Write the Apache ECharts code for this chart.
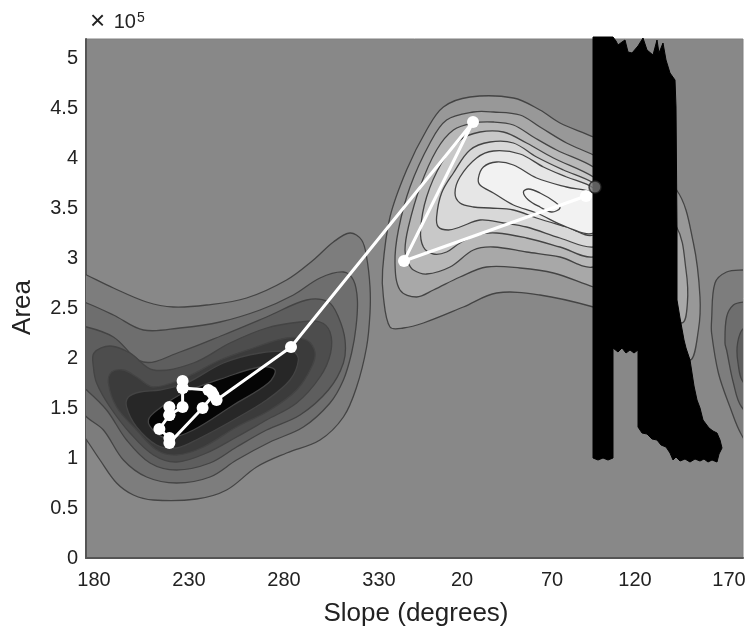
<!DOCTYPE html>
<html>
<head>
<meta charset="utf-8">
<title>Slope vs Area</title>
<script src="https://cdn.jsdelivr.net/npm/echarts@6/dist/echarts.min.js"></script>
<style>
  html, body { margin: 0; padding: 0; background: #fff; }
  #chart { width: 747px; height: 628px; }
</style>
</head>
<body>
<div id="chart"></div>
<script>
// ticks, slope runs on past 360 so the axis is unwrapped
const xTickValues = [184, 231.5, 279, 326.5, 368, 413, 454.5, 501.5]
const xTickLabels = ['180', '230', '280', '330', '20', '70', '120', '170']
const yTickValues = [0, 0.5, 1, 1.5, 2, 2.5, 3, 3.5, 4, 4.5, 5]
const yTickLabels = ['0', '0.5', '1', '1.5', '2', '2.5', '3', '3.5', '4', '4.5', '5']

// dark basin, lower left: [slope, area x 1e5]
const basin1 = [[172,2.91],[180.3,2.83],[193.7,2.70],[210.3,2.56],[223.7,2.51],[240.3,2.53],[260.3,2.60],[280.3,2.78],[293.7,2.98],[303.7,3.16],[312,3.25],[317.8,3.18],[320.3,3.01],[322,2.71],[322,2.45],[320.3,2.11],[315.3,1.71],[308.7,1.41],[297,1.18],[280.3,1.05],[265.3,0.91],[250.3,0.68],[235.3,0.59],[213.7,0.58],[203.7,0.63],[195.3,0.75],[187,0.98],[180.3,1.18],[172,1.41]]
const basin2 = [[172,2.60],[180.3,2.55],[193.7,2.43],[208.7,2.28],[227,2.30],[247,2.36],[267,2.48],[283.7,2.63],[297,2.80],[308.7,2.86],[313.7,2.78],[315.7,2.58],[315,2.31],[312.8,2.05],[308.7,1.78],[302,1.55],[288.7,1.31],[272,1.16],[255.3,0.98],[242,0.81],[225.3,0.75],[210.3,0.81],[198.7,0.98],[188.7,1.28],[180.3,1.41],[172,1.6]]
const basin3 = [[172,2.32],[180.3,2.31],[193.7,2.21],[208.7,1.96],[227,2.06],[248.7,2.23],[270.3,2.41],[290.3,2.58],[301.2,2.56],[306.2,2.41],[309.5,2.18],[308.7,1.95],[301.2,1.68],[287,1.43],[270.3,1.28],[255.3,1.11],[242,0.95],[225.3,0.88],[212,0.95],[200.3,1.18],[190.3,1.48],[180.3,1.68],[172,1.81]]
const basin4 = [[183.7,1.91],[184,2.05],[192,2.12],[202,2.05],[213.7,1.88],[233.7,1.95],[252,2.15],[270.3,2.30],[287,2.36],[297,2.36],[302,2.26],[302.3,2.05],[297,1.81],[285.3,1.55],[270.3,1.38],[255.3,1.21],[240.3,1.05],[225.3,0.96],[213.7,1.03],[202,1.25],[192,1.51],[185.3,1.75]]
const basin5 = [[191.2,1.75],[192.8,1.86],[198.7,1.88],[205.3,1.81],[213.7,1.71],[230.3,1.81],[247,1.98],[263.7,2.10],[280.3,2.20],[290.3,2.18],[294.5,2.06],[292.8,1.91],[285.3,1.68],[272,1.48],[255.3,1.31],[238.7,1.11],[225.3,1.03],[215.3,1.08],[205.3,1.28],[195.3,1.51]]
const basin6 = [[200.3,1.51],[201.2,1.61],[207,1.66],[217,1.68],[230.3,1.75],[248.7,1.95],[267,2.05],[283.7,2.06],[286.2,1.98],[282,1.78],[270.3,1.58],[253.7,1.38],[237,1.20],[225.3,1.10],[215.3,1.13],[205.3,1.31]]
const basin7 = [[211.2,1.38],[217,1.50],[228.7,1.65],[250.3,1.81],[267,1.91],[274.5,1.88],[271.2,1.75],[253.7,1.53],[233.7,1.28],[221.2,1.20],[214.5,1.26]]

// light peak, upper right
const peak1 = [[332,2.31],[328.7,2.61],[328.3,2.88],[332,3.41],[340.3,3.88],[350.3,4.28],[358.7,4.51],[372,4.61],[393.7,4.60],[407,4.48],[417,4.35],[433.7,4.21],[453.7,4.01],[475.3,3.68],[483.7,3.15],[487,2.61],[486.2,2.28],[482,1.98],[470,2.28],[433.7,2.51],[407,2.63],[385.3,2.65],[368.7,2.51],[348.7,2.35],[338.7,2.30]]
const peak2 = [[345.3,2.61],[337,2.68],[334.5,2.95],[336.2,3.28],[342,3.71],[352,4.15],[360.3,4.38],[373.7,4.46],[383.7,4.46],[397,4.43],[407,4.31],[420.3,4.15],[433.7,4.03],[453.7,3.81],[475.3,3.31],[480,2.88],[480.7,2.55],[477.8,2.35],[460.3,2.55],[433.7,2.71],[413.7,2.85],[397,2.90],[380.3,2.91],[367,2.81],[353.7,2.68]]
const peak3 = [[343.7,2.88],[341.2,2.95],[339.5,3.08],[341.2,3.31],[347,3.71],[355.3,4.08],[363.7,4.28],[373.7,4.35],[383.7,4.36],[393.7,4.33],[403.7,4.21],[415.3,4.08],[433.7,3.91],[453.7,3.61],[453.7,3.15],[433.7,2.91],[417,3.01],[400.3,3.06],[383.7,3.11],[373.7,3.08],[362,2.91],[350.3,2.84]]
const peak4 = [[353.7,3.04],[348.7,3.11],[347.3,3.28],[350.3,3.61],[357.8,3.95],[367,4.18],[377,4.26],[388.7,4.26],[400.3,4.15],[413.7,4.00],[433.7,3.81],[450.3,3.55],[450.3,3.21],[433.7,3.01],[417,3.11],[400.3,3.20],[385.3,3.25],[375.3,3.23],[367,3.15],[360.3,3.06]]
const peak5 = [[361.2,3.28],[356.2,3.31],[355.3,3.41],[357.8,3.65],[363.7,3.85],[372,4.08],[382,4.16],[393.7,4.15],[405.3,4.01],[418.7,3.88],[433.7,3.75],[448.7,3.51],[447,3.25],[433.7,3.11],[417,3.20],[400.3,3.31],[388.7,3.35],[377,3.38],[367,3.31]]
const peak6 = [[367,3.55],[364.5,3.65],[367,3.81],[375.3,4.00],[383.7,4.07],[397,4.04],[408.7,3.91],[420.3,3.81],[433.7,3.70],[443.7,3.48],[433.7,3.23],[420.3,3.31],[405.3,3.40],[393.7,3.48],[382,3.50],[373.7,3.51]]
const peak7 = [[377,3.73],[376.2,3.80],[378.7,3.91],[385.3,3.96],[393.7,3.93],[405.3,3.80],[420.3,3.71],[433.7,3.65],[440.3,3.48],[433.7,3.25],[420.3,3.31],[405.3,3.45],[393.7,3.53],[383.7,3.65]]
const peak8 = [[398.7,3.66],[401.2,3.69],[407,3.65],[414.5,3.56],[417,3.50],[412.8,3.46],[407,3.51],[401.2,3.58]]

// basin wrapping back in at the right edge
const edge1 = [[520,2.88],[508.6,2.88],[500.3,2.86],[494.5,2.75],[492.8,2.38],[492.8,2.25],[496.2,1.85],[502,1.51],[507.8,1.23],[520,0.9]]
const edge2 = [[520,2.56],[508.7,2.56],[503.7,2.53],[500.3,2.41],[499.5,2.15],[500.3,2.08],[503.7,1.75],[507.8,1.51],[520,1.3]]
const edge3 = [[520,2.32],[509,2.3],[505.8,2.15],[506,1.95],[509,1.75],[520,1.7]]

// dense black trace, outline of the mass
const blackTrace = [[433.5,5.21],[443.5,5.21],[445,5.17],[446,5.13],[448,5.16],[449.5,5.18],[451,5.06],[453,5.05],[456,5.12],[458.5,5.20],[460.5,5.08],[463.5,5.03],[465.5,5.18],[466.5,5.05],[468.5,5.15],[470,4.98],[472,4.85],[474.5,4.78],[475,4.51],[475.5,3.28],[475.5,2.58],[477,2.40],[479,2.18],[480,2.10],[482,1.98],[484,1.72],[485.5,1.58],[487,1.50],[488.5,1.38],[491.5,1.30],[493.5,1.27],[495.5,1.25],[497,1.18],[498,1.10],[496.5,1.04],[495.5,0.96],[493,0.98],[491,0.96],[489,0.99],[487,0.97],[484.5,0.99],[482,0.96],[479.5,0.99],[477,0.97],[475,1.01],[473.5,0.98],[472,1.05],[470,1.11],[467.5,1.13],[465.5,1.18],[463,1.19],[460.5,1.24],[458,1.25],[456,1.31],[456,2.08],[454,2.05],[452,2.08],[450,2.05],[448,2.10],[446,2.06],[443.5,2.10],[443.5,1.00],[441,0.98],[438.5,1.00],[436,0.98],[433.5,1.00]]

// white path
const pathPoints = [[430,3.62],[339,2.97],[373.5,4.36],[282.5,2.11],[245.3,1.58],[242.8,1.66],[241.2,1.68],[228.3,1.70],[228.3,1.77],[228.3,1.70],[228.3,1.51],[221.7,1.43],[221.7,1.51],[221.7,1.43],[216.7,1.29],[221.7,1.20],[221.7,1.15],[238.3,1.50],[243.7,1.63]]
const endPoint = [[434.5,3.71]]

const ringColors = [
  [basin1, '#7d7d7d'], [basin2, '#6e6e6e'], [basin3, '#5e5e5e'], [basin4, '#4d4d4d'],
  [basin5, '#3b3b3b'], [basin6, '#272727'], [basin7, '#050505'],
  [peak1, '#989898'], [peak2, '#a8a8a8'], [peak3, '#b8b8b8'], [peak4, '#c8c8c8'],
  [peak5, '#d8d8d8'], [peak6, '#e6e6e6'], [peak7, '#f2f2f2'], [peak8, '#f4f4f4'],
  [edge1, '#7d7d7d'], [edge2, '#6e6e6e'], [edge3, '#5e5e5e'],
]

function polygonSeries(points, fill, stroke, smooth, clip, width) {
  return {
    type: 'custom',
    silent: true,
    clip: clip,
    data: points,
    renderItem: function (params, api) {
      if (params.dataIndex !== 0) return null
      return {
        type: 'polygon',
        shape: { points: points.map(function (p) { return api.coord(p) }), smooth: smooth },
        style: { fill: fill, stroke: stroke, lineWidth: width },
      }
    },
  }
}

const series = ringColors.map(function (r) {
  return polygonSeries(r[0], r[1], '#444', 0.35, true, 1.3)
})
series.push(polygonSeries(blackTrace, '#000', '#000', 0, false, 1))
series.push({
  type: 'line',
  data: pathPoints,
  symbol: 'circle',
  symbolSize: 12,
  showSymbol: true,
  lineStyle: { color: '#fff', width: 3 },
  itemStyle: { color: '#fff' },
  silent: true,
})
series.push({
  type: 'scatter',
  data: endPoint,
  symbolSize: 12,
  itemStyle: { color: '#777', borderColor: '#222', borderWidth: 1.5 },
  silent: true,
})

const chart = echarts.init(document.getElementById('chart'), null, { renderer: 'canvas' })
chart.setOption({
  animation: false,
  textStyle: { fontFamily: 'Liberation Sans' },
  title: {
    text: '{x|×} 10{sup|5}',
    left: 85,
    top: 4,
    textStyle: {
      fontFamily: 'Liberation Sans',
      fontSize: 20,
      fontWeight: 'normal',
      color: '#222',
      rich: {
        x: { fontSize: 26, color: '#222', padding: [0, 3, 0, 0] },
        sup: { fontSize: 14, verticalAlign: 'bottom', padding: [0, 0, 10, 1], color: '#222' },
      },
    },
  },
  grid: {
    left: 86, right: 4, top: 39, bottom: 70,
    outerBoundsMode: 'none',
    show: true,
    backgroundColor: '#888888',
    borderColor: '#808080',
    borderWidth: 1,
  },
  xAxis: {
    type: 'value',
    min: 180,
    max: 508.5,
    name: 'Slope (degrees)',
    nameLocation: 'middle',
    nameGap: 43,
    nameTextStyle: { fontSize: 26, color: '#222', fontFamily: 'Liberation Sans', padding: [0, 0, 0, 3] },
    splitLine: { show: false },
    axisTick: { show: false },
    axisLine: { show: true, onZero: false, lineStyle: { color: '#555', width: 2 } },
    axisLabel: {
      customValues: xTickValues,
      formatter: function (v) { return xTickLabels[xTickValues.indexOf(v)] },
      fontSize: 20,
      color: '#222',
      margin: 12,
    },
  },
  yAxis: {
    type: 'value',
    min: 0,
    max: 5.19,
    name: 'Area',
    nameLocation: 'middle',
    nameGap: 50,
    nameTextStyle: { fontSize: 26, color: '#222', fontFamily: 'Liberation Sans', padding: [0, 18, 0, 0] },
    splitLine: { show: false },
    axisTick: { show: false },
    axisLine: { show: true, onZero: false, lineStyle: { color: '#555', width: 2 } },
    axisLabel: {
      customValues: yTickValues,
      formatter: function (v) { return yTickLabels[yTickValues.indexOf(v)] },
      fontSize: 20,
      color: '#222',
      margin: 8,
      padding: [8, 0, 0, 0],
    },
  },
  series: series,
})
</script>
</body>
</html>
